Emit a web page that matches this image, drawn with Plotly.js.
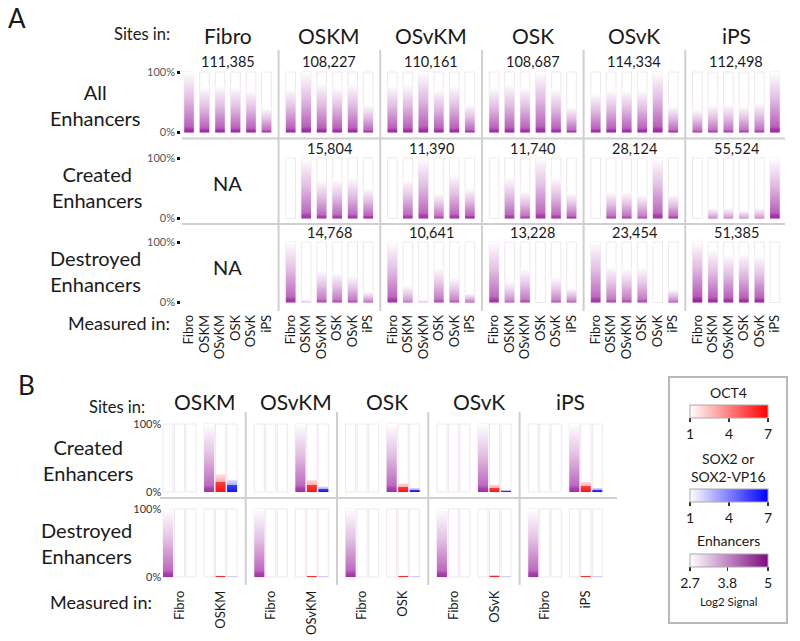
<!DOCTYPE html>
<html>
<head>
<meta charset="utf-8">
<script src="https://cdn.plot.ly/plotly-3.0.1.min.js"></script>
<style>
html,body{margin:0;padding:0;background:#fff;}
#chart{width:800px;height:641px;}
</style>
</head>
<body>
<div id="chart"></div>
<script>
// ---------------- DATA ----------------
const sites = ['Fibro', 'OSKM', 'OSvKM', 'OSK', 'OSvK', 'iPS'];
const measured = ['Fibro', 'OSKM', 'OSvKM', 'OSK', 'OSvK', 'iPS'];

const countsAll = [111385, 108227, 110161, 108687, 114334, 112498];
const countsCreated = [null, 15804, 11390, 11740, 28124, 55524];
const countsDestroyed = [null, 14768, 10641, 13228, 23454, 51385];

// height (%) at which the enhancer signal fades out, per site column x measured-in bar
const allHeight = [
  [100, 75, 78, 75, 70, 40],
  [72, 100, 82, 75, 80, 46],
  [78, 80, 100, 72, 78, 46],
  [75, 80, 75, 100, 72, 42],
  [64, 70, 70, 70, 100, 44],
  [38, 46, 46, 44, 50, 100]
];
const allLevel = [
  [0.9, 0.9, 0.9, 0.9, 0.9, 0.85],
  [0.9, 0.9, 0.9, 0.9, 0.9, 0.85],
  [0.9, 0.9, 0.9, 0.9, 0.9, 0.85],
  [0.9, 0.9, 0.9, 0.9, 0.9, 0.85],
  [0.9, 0.9, 0.9, 0.9, 0.9, 0.85],
  [0.8, 0.8, 0.8, 0.8, 0.8, 0.9]
];
const createdHeight = [
  null,
  [0, 100, 64, 64, 68, 50],
  [0, 64, 100, 42, 74, 50],
  [0, 68, 46, 100, 68, 42],
  [0, 44, 44, 40, 100, 40],
  [0, 18, 18, 14, 18, 100]
];
const createdLevel = [
  null,
  [0, 0.85, 0.85, 0.85, 0.85, 0.9],
  [0, 0.85, 0.85, 0.8, 0.85, 0.9],
  [0, 0.85, 0.8, 0.85, 0.85, 0.85],
  [0, 0.8, 0.8, 0.75, 0.85, 0.85],
  [0, 0.55, 0.55, 0.5, 0.55, 0.9]
];
const destroyedHeight = [
  null,
  [100, 6, 54, 50, 45, 18],
  [100, 28, 6, 58, 42, 15],
  [100, 35, 56, 0, 42, 24],
  [100, 60, 56, 58, 0, 22],
  [100, 88, 80, 82, 78, 0]
];
const destroyedLevel = [
  null,
  [0.85, 0.25, 0.75, 0.75, 0.75, 0.7],
  [0.85, 0.6, 0.25, 0.75, 0.7, 0.7],
  [0.85, 0.65, 0.75, 0, 0.7, 0.7],
  [0.85, 0.75, 0.75, 0.75, 0, 0.7],
  [0.95, 0.9, 0.9, 0.9, 0.9, 0]
];

// Panel B
const bSites = ['OSKM', 'OSvKM', 'OSK', 'OSvK', 'iPS'];
const bGroups = ['Fibro', 'site'];
const bCreatedEnhFibro = [0, 0, 0, 0, 0];
const bCreatedEnhSite = [100, 100, 100, 100, 100];
const bCreatedOct4Site = [26, 18, 13, 11, 15];
const bCreatedSox2Site = [18, 8, 6, 3, 6];
const bDestroyedEnhFibro = [100, 100, 100, 100, 100];
const bDestroyedEnhSite = [0, 0, 0, 0, 0];
const bDestroyedOct4Site = [2, 2, 2, 3, 2];
const bDestroyedSox2Site = [1, 1, 1, 1, 1];

const oct4Ticks = [1, 4, 7];
const sox2Ticks = [1, 4, 7];
const enhTicks = [2.7, 3.8, 5];

// ---------------- GEOMETRY / STYLE ----------------
const W = 800, H = 641;
const X = p => p / W;
const Y = p => 1 - p / H;
const FONT = 'Lato, "Open Sans", sans-serif';
const TXT = '#1a1a1a';

const GA = {unit: 15.5, col: 6.56, left: 181.25, w: 0.62};
const GB = {unit: 11.5, col: 7.94, grp: 3.57, left: 162.25, w: 0.87};
const aMax = 5 * GA.col + 5 + 0.5;
const bMax = 4 * GB.col + GB.grp + 2 + 0.5;
const aDomain = [X(GA.left), X(GA.left + (aMax + 0.5) * GA.unit)];
const bDomain = [X(GB.left), X(GB.left + (bMax + 0.5) * GB.unit)];

function yDomain(top, bot) {
  const ppu = (bot - top) / 100;
  return [Y(bot + 2 * ppu), Y(top - 2 * ppu)];
}
const aRows = [[72, 132.5], [158, 218.5], [242, 302.5]];
const bRows = [[424, 492], [509, 577]];

function mixPurple(c) {
  const r = Math.round(255 - (255 - 155) * c);
  const g = Math.round(255 - (255 - 30) * c);
  const b = Math.round(255 - (255 - 158) * c);
  return `rgb(${r},${g},${b})`;
}
function purpleScale(c) {
  return [[0, mixPurple(Math.min(1, c * 1.08))], [0.05, mixPurple(c)], [0.1, mixPurple(c * 0.78)],
          [0.55, mixPurple(c * 0.33)], [1, 'rgb(255,255,255)']];
}
const redScale = [[0, 'rgb(250,20,20)'], [0.55, 'rgb(252,60,60)'], [0.6, 'rgb(253,175,175)'], [1, 'rgb(255,225,225)']];
const blueScale = [[0, 'rgb(20,20,245)'], [0.55, 'rgb(60,60,250)'], [0.6, 'rgb(175,175,253)'], [1, 'rgb(225,225,255)']];

const traces = [];
function gradRect(xa, ya, xc, w, h, scale) {
  if (!h) return;
  traces.push({
    type: 'scatter', xaxis: xa, yaxis: ya,
    x: [xc - w / 2, xc + w / 2, xc + w / 2, xc - w / 2, xc - w / 2],
    y: [0, 0, h, h, 0],
    mode: 'none', fill: 'toself',
    fillgradient: {type: 'vertical', colorscale: scale},
    hoverinfo: 'skip', showlegend: false
  });
}
function boxes(xa, ya, xs, w) {
  traces.push({
    type: 'bar', xaxis: xa, yaxis: ya, x: xs, y: xs.map(() => 100), width: w,
    marker: {color: 'rgba(255,255,255,1)', line: {color: '#efe7ef', width: 1}},
    hoverinfo: 'skip', showlegend: false
  });
}

// ---- Panel A ----
const aH = [allHeight, createdHeight, destroyedHeight];
const aL = [allLevel, createdLevel, destroyedLevel];
const axA = ['', '2', '3'];
aH.forEach((rowH, r) => {
  const xa = 'x' + axA[r], ya = 'y' + axA[r];
  const xs = [];
  rowH.forEach((col, c) => { if (col) col.forEach((v, k) => xs.push(c * GA.col + k)); });
  boxes(xa, ya, xs, GA.w);
  rowH.forEach((col, c) => {
    if (!col) return;
    col.forEach((v, k) => gradRect(xa, ya, c * GA.col + k, GA.w, v, purpleScale(aL[r][c][k])));
  });
});

// ---- Panel B ----
function bx(c, g, k) { return c * GB.col + g * GB.grp + k; }
const bRowsData = [
  {xa: 'x4', ya: 'y4', enh: [bCreatedEnhFibro, bCreatedEnhSite], oct: [null, bCreatedOct4Site], sox: [null, bCreatedSox2Site]},
  {xa: 'x5', ya: 'y5', enh: [bDestroyedEnhFibro, bDestroyedEnhSite], oct: [null, bDestroyedOct4Site], sox: [null, bDestroyedSox2Site]}
];
bRowsData.forEach(rd => {
  const xs = [];
  bSites.forEach((s, c) => bGroups.forEach((g, gi) => [0, 1, 2].forEach(k => xs.push(bx(c, gi, k)))));
  boxes(rd.xa, rd.ya, xs, GB.w);
  bSites.forEach((s, c) => {
    bGroups.forEach((g, gi) => {
      gradRect(rd.xa, rd.ya, bx(c, gi, 0), GB.w, rd.enh[gi][c], purpleScale(0.85));
      if (rd.oct[gi]) gradRect(rd.xa, rd.ya, bx(c, gi, 1), GB.w, rd.oct[gi][c], redScale);
      if (rd.sox[gi]) gradRect(rd.xa, rd.ya, bx(c, gi, 2), GB.w, rd.sox[gi][c], blueScale);
    });
  });
});

// ---- colour bars (legend) ----
function cbTrace(ticks, scale, yTop) {
  traces.push({
    type: 'scatter', xaxis: 'x', yaxis: 'y', x: [0], y: [-500], mode: 'markers',
    marker: {
      size: 1, opacity: 0, color: [ticks[0]], cmin: ticks[0], cmax: ticks[ticks.length - 1],
      colorscale: scale, showscale: true,
      colorbar: {
        orientation: 'h', x: X(729), xanchor: 'center', y: Y(yTop), yanchor: 'top',
        len: 78, lenmode: 'pixels', thickness: 13, xpad: 0, ypad: 0,
        tickvals: ticks, ticktext: ticks.map(String), ticks: 'outside', ticklen: 4, tickwidth: 1.5, tickcolor: '#333',
        tickfont: {family: FONT, size: 14, color: TXT},
        outlinewidth: 1, outlinecolor: '#aaa', borderwidth: 0
      }
    },
    hoverinfo: 'skip', showlegend: false
  });
}
cbTrace(oct4Ticks, [[0, '#ffffff'], [1, '#ff0000']], 405);
cbTrace(sox2Ticks, [[0, '#ffffff'], [1, '#0000ff']], 489);
cbTrace(enhTicks, [[0, '#ffffff'], [1, '#7d0a80']], 554);

// ---------------- LAYOUT ----------------
const hiddenX = (dom, rng) => ({domain: dom, range: rng, showgrid: false, zeroline: false, showline: false, showticklabels: false, ticks: '', fixedrange: true});
const yAxA = (dom) => ({
  domain: dom, range: [-2, 102], showgrid: false, zeroline: false, showline: false, fixedrange: true,
  tickvals: [0, 100], ticktext: ['0%', '100%'], ticks: 'outside', ticklen: 3, tickwidth: 3, tickcolor: '#111',
  tickfont: {family: FONT, size: 11, color: '#555'}
});
const yAxB = (dom) => ({
  domain: dom, range: [-2, 102], showgrid: false, zeroline: false, showline: false, fixedrange: true,
  tickvals: [0, 100], ticktext: ['0%', '100%'], ticks: '',
  tickfont: {family: FONT, size: 11, color: '#333'}
});

const aTickVals = [], aTickText = [];
sites.forEach((s, c) => measured.forEach((m, k) => { aTickVals.push(c * GA.col + k); aTickText.push(m); }));
const bTickVals = [], bTickText = [];
bSites.forEach((s, c) => bGroups.forEach((g, gi) => { bTickVals.push(bx(c, gi, 1)); bTickText.push(gi === 0 ? 'Fibro' : s); }));

const ann = [];
function A_(text, x, y, size, extra) {
  ann.push(Object.assign({text, x, y, xref: 'paper', yref: 'paper', showarrow: false, xanchor: 'center', yanchor: 'middle',
    font: {family: FONT, size, color: TXT}}, extra || {}));
}
A_('A', X(16.5), Y(18), 26);
A_('B', X(26), Y(385), 26);
A_('Sites in:', X(142), Y(34), 16.5);
A_('Sites in:', X(117), Y(407), 16.5);
A_('Measured in:', X(119), Y(323), 18);
A_('Measured in:', X(101), Y(602), 18);
A_('All<br>Enhancers', X(95), Y(105), 20);
A_('Created<br>Enhancers', X(97), Y(187), 20);
A_('Destroyed<br>Enhancers', X(95), Y(271), 20);
A_('Created<br>Enhancers', X(88), Y(460), 20);
A_('Destroyed<br>Enhancers', X(86), Y(543), 20);
const fmt = n => n.toLocaleString('en-US');
sites.forEach((s, c) => {
  const xc = c * GA.col + 2.5;
  A_(s, xc, Y(35), 21, {xref: 'x'});
  A_(fmt(countsAll[c]), xc, Y(62), 14.5, {xref: 'x'});
  if (countsCreated[c] != null) A_(fmt(countsCreated[c]), xc, Y(148), 14.5, {xref: 'x'});
  else A_('NA', xc, Y(183), 20, {xref: 'x'});
  if (countsDestroyed[c] != null) A_(fmt(countsDestroyed[c]), xc, Y(233), 14.5, {xref: 'x'});
  else A_('NA', xc, Y(267), 20, {xref: 'x'});
});
bSites.forEach((s, c) => A_(s, c * GB.col + 3.2, Y(401), 21, {xref: 'x4'}));
A_('OCT4', X(728), Y(392), 14);
A_('SOX2 or', X(728), Y(458), 14);
A_('SOX2-VP16', X(728), Y(476), 14);
A_('Enhancers', X(728), Y(540), 14);
A_('Log2 Signal', X(728), Y(601), 11.5);

const shapes = [];
const SEP = {color: '#cfcfcf', width: 2};
for (let c = 0; c < 5; c++) shapes.push({type: 'line', xref: 'x', yref: 'paper', x0: c * GA.col + 5.78, x1: c * GA.col + 5.78, y0: Y(50), y1: Y(311), line: SEP, layer: 'below'});
[138.5, 224].forEach(y => shapes.push({type: 'line', xref: 'paper', yref: 'paper', x0: X(182), x1: X(785), y0: Y(y), y1: Y(y), line: SEP, layer: 'below'}));
for (let c = 0; c < 4; c++) shapes.push({type: 'line', xref: 'x4', yref: 'paper', x0: c * GB.col + 6.755, x1: c * GB.col + 6.755, y0: Y(412), y1: Y(585), line: SEP, layer: 'below'});
shapes.push({type: 'line', xref: 'paper', yref: 'paper', x0: X(160), x1: X(617), y0: Y(498), y1: Y(498), line: SEP, layer: 'below'});
shapes.push({type: 'rect', xref: 'paper', yref: 'paper', x0: X(669), x1: X(787), y0: Y(623), y1: Y(377), line: {color: '#b8b8b8', width: 2}, fillcolor: 'rgba(0,0,0,0)'});

const layout = {
  width: W, height: H, margin: {l: 0, r: 0, t: 0, b: 0}, paper_bgcolor: '#fff', plot_bgcolor: 'rgba(0,0,0,0)',
  showlegend: false, barmode: 'overlay', font: {family: FONT, color: TXT},
  xaxis: hiddenX(aDomain, [-0.5, aMax]),
  xaxis2: hiddenX(aDomain, [-0.5, aMax]),
  xaxis3: Object.assign(hiddenX(aDomain, [-0.5, aMax]), {
    showticklabels: true, tickvals: aTickVals, ticktext: aTickText, tickangle: -90,
    ticks: 'outside', ticklen: 5, tickcolor: 'rgba(0,0,0,0)', tickfont: {family: FONT, size: 13, color: TXT}
  }),
  xaxis4: hiddenX(bDomain, [-0.5, bMax]),
  xaxis5: Object.assign(hiddenX(bDomain, [-0.5, bMax]), {
    showticklabels: true, tickvals: bTickVals, ticktext: bTickText, tickangle: -90,
    ticks: 'outside', ticklen: 6, tickcolor: 'rgba(0,0,0,0)', tickfont: {family: FONT, size: 13, color: TXT}
  }),
  yaxis: yAxA(yDomain(...aRows[0])),
  yaxis2: yAxA(yDomain(...aRows[1])),
  yaxis3: yAxA(yDomain(...aRows[2])),
  yaxis4: yAxB(yDomain(...bRows[0])),
  yaxis5: yAxB(yDomain(...bRows[1])),
  annotations: ann, shapes: shapes
};
layout.yaxis.anchor = 'x'; layout.yaxis2.anchor = 'x2'; layout.yaxis3.anchor = 'x3';
layout.yaxis4.anchor = 'x4'; layout.yaxis5.anchor = 'x5';
layout.xaxis.anchor = 'y'; layout.xaxis2.anchor = 'y2'; layout.xaxis3.anchor = 'y3';
layout.xaxis4.anchor = 'y4'; layout.xaxis5.anchor = 'y5';

Plotly.newPlot('chart', traces, layout, {displayModeBar: false, staticPlot: true});
</script>
</body>
</html>
